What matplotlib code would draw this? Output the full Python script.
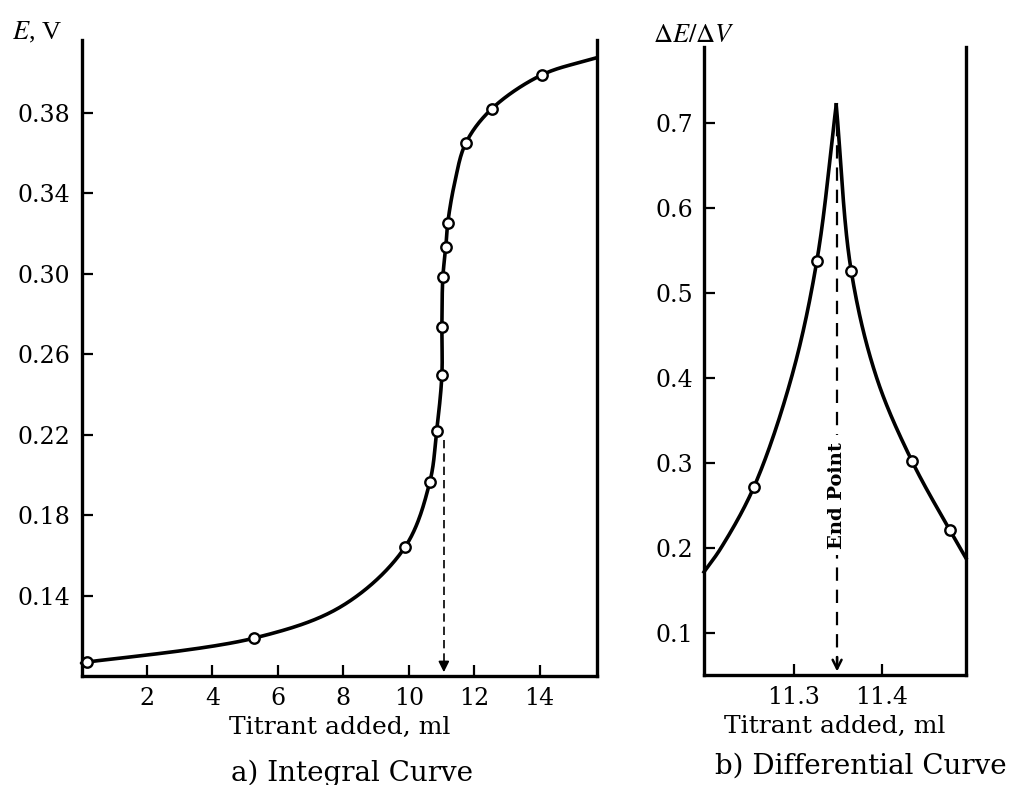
import numpy as np
import matplotlib
matplotlib.use("Agg")
import matplotlib.pyplot as plt

plt.rcParams['font.family'] = ['DejaVu Serif']
plt.rcParams['mathtext.fontset'] = 'stix'

# ---------------- data: a) integral curve ----------------
vol_a_pts = [0.17, 5.27, 9.88, 10.64, 10.85, 11.01, 11.01, 11.04, 11.13, 11.19, 11.74, 12.53, 14.06]
E_pts = [0.1069, 0.1188, 0.164, 0.1964, 0.2218, 0.2496, 0.2735, 0.2984, 0.3133, 0.3253, 0.365, 0.382, 0.3989]

vol_a_curve = [0.0, 0.17, 5.27, 8.0, 9.88, 10.64, 10.85, 11.01, 11.01,
               11.04, 11.13, 11.19, 11.40, 11.74, 12.53, 14.06, 15.75]
E_curve = [0.1064, 0.1069, 0.1188, 0.1352, 0.164, 0.1964,
           0.2218, 0.2496, 0.2735, 0.2984, 0.3133, 0.3253, 0.3452, 0.365, 0.382, 0.3989, 0.4075]

xticks_a = [2, 4, 6, 8, 10, 12, 14]
yticks_a = [0.14, 0.18, 0.22, 0.26, 0.30, 0.34, 0.38]
endpoint_a = 11.07

# ---------------- data: b) differential curve ----------------
vol_b_pts = [11.2545, 11.326, 11.365, 11.434, 11.477]
dEdV_pts = [0.2718, 0.5376, 0.526, 0.3024, 0.2212]

vol_b_left = [11.1977, 11.217, 11.2545, 11.297, 11.326, 11.348]
dEdV_left = [0.1718, 0.200, 0.2718, 0.400, 0.5376, 0.721]
vol_b_right = [11.348, 11.365, 11.394, 11.434, 11.477, 11.4955]
dEdV_right = [0.721, 0.526, 0.400, 0.3024, 0.2212, 0.188]

xticks_b = [11.3, 11.4]
yticks_b = [0.1, 0.2, 0.3, 0.4, 0.5, 0.6, 0.7]
endpoint_b = 11.349


def smooth(ax, xs, ys, n=40):
    """Centripetal Catmull-Rom through the knots, computed in display space."""
    pts = ax.transData.transform(np.column_stack([xs, ys]))
    P = np.vstack([2 * pts[0] - pts[1], pts, 2 * pts[-1] - pts[-2]])
    out = []
    for i in range(1, len(P) - 2):
        p0, p1, p2, p3 = P[i - 1], P[i], P[i + 1], P[i + 2]
        t0 = 0.0
        t1 = t0 + max(np.linalg.norm(p1 - p0), 1e-6) ** 0.5
        t2 = t1 + max(np.linalg.norm(p2 - p1), 1e-6) ** 0.5
        t3 = t2 + max(np.linalg.norm(p3 - p2), 1e-6) ** 0.5
        t = np.linspace(t1, t2, n)[:, None]
        A1 = (t1 - t) / (t1 - t0) * p0 + (t - t0) / (t1 - t0) * p1
        A2 = (t2 - t) / (t2 - t1) * p1 + (t - t1) / (t2 - t1) * p2
        A3 = (t3 - t) / (t3 - t2) * p2 + (t - t2) / (t3 - t2) * p3
        B1 = (t2 - t) / (t2 - t0) * A1 + (t - t0) / (t2 - t0) * A2
        B2 = (t3 - t) / (t3 - t1) * A2 + (t - t1) / (t3 - t1) * A3
        C = (t2 - t) / (t2 - t1) * B1 + (t - t1) / (t2 - t1) * B2
        out.append(C)
    out = np.vstack(out)
    d = ax.transData.inverted().transform(out)
    return d[:, 0], d[:, 1]


def style_axes(ax):
    ax.spines['top'].set_visible(False)
    for s in ('left', 'right', 'bottom'):
        ax.spines[s].set_linewidth(2.4)
        ax.spines[s].set_capstyle('projecting')
    ax.tick_params(axis='both', direction='in', length=8, width=1.6,
                   labelsize=17, colors='black')
    ax.tick_params(axis='y', pad=8, right=False)
    ax.tick_params(axis='x', pad=8, top=False)


fig = plt.figure(figsize=(10.15, 7.85), dpi=100)
ax1 = fig.add_axes([0.0803, 0.1389, 0.5079, 0.8102])
ax2 = fig.add_axes([0.6936, 0.1401, 0.2581, 0.8000])

# ---------- panel a ----------
ax1.set_xlim(0, 15.75)
ax1.set_ylim(0.100, 0.4163)
style_axes(ax1)
ax1.set_xticks(xticks_a)
ax1.set_xticklabels([str(v) for v in xticks_a])
ax1.set_yticks(yticks_a)
ax1.set_yticklabels([f"{v:.2f}" for v in yticks_a])

cx, cy = smooth(ax1, vol_a_curve, E_curve)
ax1.plot(cx, cy, color='black', lw=2.6, solid_capstyle='round', zorder=3, clip_on=False)
ax1.plot(vol_a_pts, E_pts, 'o', ms=7.5, mfc='white', mec='black', mew=1.7, zorder=4)

ax1.plot([endpoint_a, endpoint_a], [0.2175, 0.107], color='black', lw=1.2,
         linestyle=(0, (5, 3)), zorder=2)
ax1.annotate('', xy=(endpoint_a, 0.1005), xytext=(endpoint_a, 0.108),
             arrowprops=dict(arrowstyle='-|>', color='black', lw=1.2, mutation_scale=16))

ax1.set_xlabel('Titrant added, ml', fontsize=18, labelpad=4)

# ---------- panel b ----------
ax2.set_xlim(11.1977, 11.4955)
ax2.set_ylim(0.0506, 0.789)
style_axes(ax2)
ax2.set_xticks(xticks_b)
ax2.set_xticklabels([f"{v:.1f}" for v in xticks_b])
ax2.set_yticks(yticks_b)
ax2.set_yticklabels([f"{v:.1f}" for v in yticks_b])

lx, ly = smooth(ax2, vol_b_left, dEdV_left)
rx, ry = smooth(ax2, vol_b_right, dEdV_right)
ax2.plot(lx, ly, color='black', lw=2.6, zorder=3, clip_on=False)
ax2.plot(rx, ry, color='black', lw=2.6, zorder=3, clip_on=False)
ax2.plot(vol_b_pts, dEdV_pts, 'o', ms=7.5, mfc='white', mec='black', mew=1.7, zorder=4)

ax2.plot([endpoint_b, endpoint_b], [0.70, 0.062], color='black', lw=1.6,
         linestyle=(0, (6, 4)), zorder=2)
ax2.annotate('', xy=(endpoint_b, 0.0515), xytext=(endpoint_b, 0.075),
             arrowprops=dict(arrowstyle='->', color='black', lw=1.8, mutation_scale=16))
ax2.text(endpoint_b, 0.262, 'End Point', rotation=90, ha='center', va='center',
         fontsize=14, fontweight='bold', zorder=5,
         bbox=dict(boxstyle='square,pad=0.35', fc='white', ec='none'))

ax2.set_xlabel('Titrant added, ml', fontsize=18, labelpad=4)

# ---------- axis titles and captions ----------
fig.text(12 / 1015, 1 - 39 / 785, r'$E$, V', fontsize=19, family='Liberation Serif',
         ha='left', va='baseline')
fig.text(653 / 1015, 1 - 42 / 785, r'$\Delta E/\Delta V$', fontsize=19,
         ha='left', va='baseline')
fig.text(352 / 1015, 1 - 781 / 785, 'a) Integral Curve', fontsize=20,
         ha='center', va='baseline')
fig.text(861 / 1015, 1 - 774 / 785, 'b) Differential Curve', fontsize=20,
         ha='center', va='baseline')

fig.savefig('out.png', dpi=100)
